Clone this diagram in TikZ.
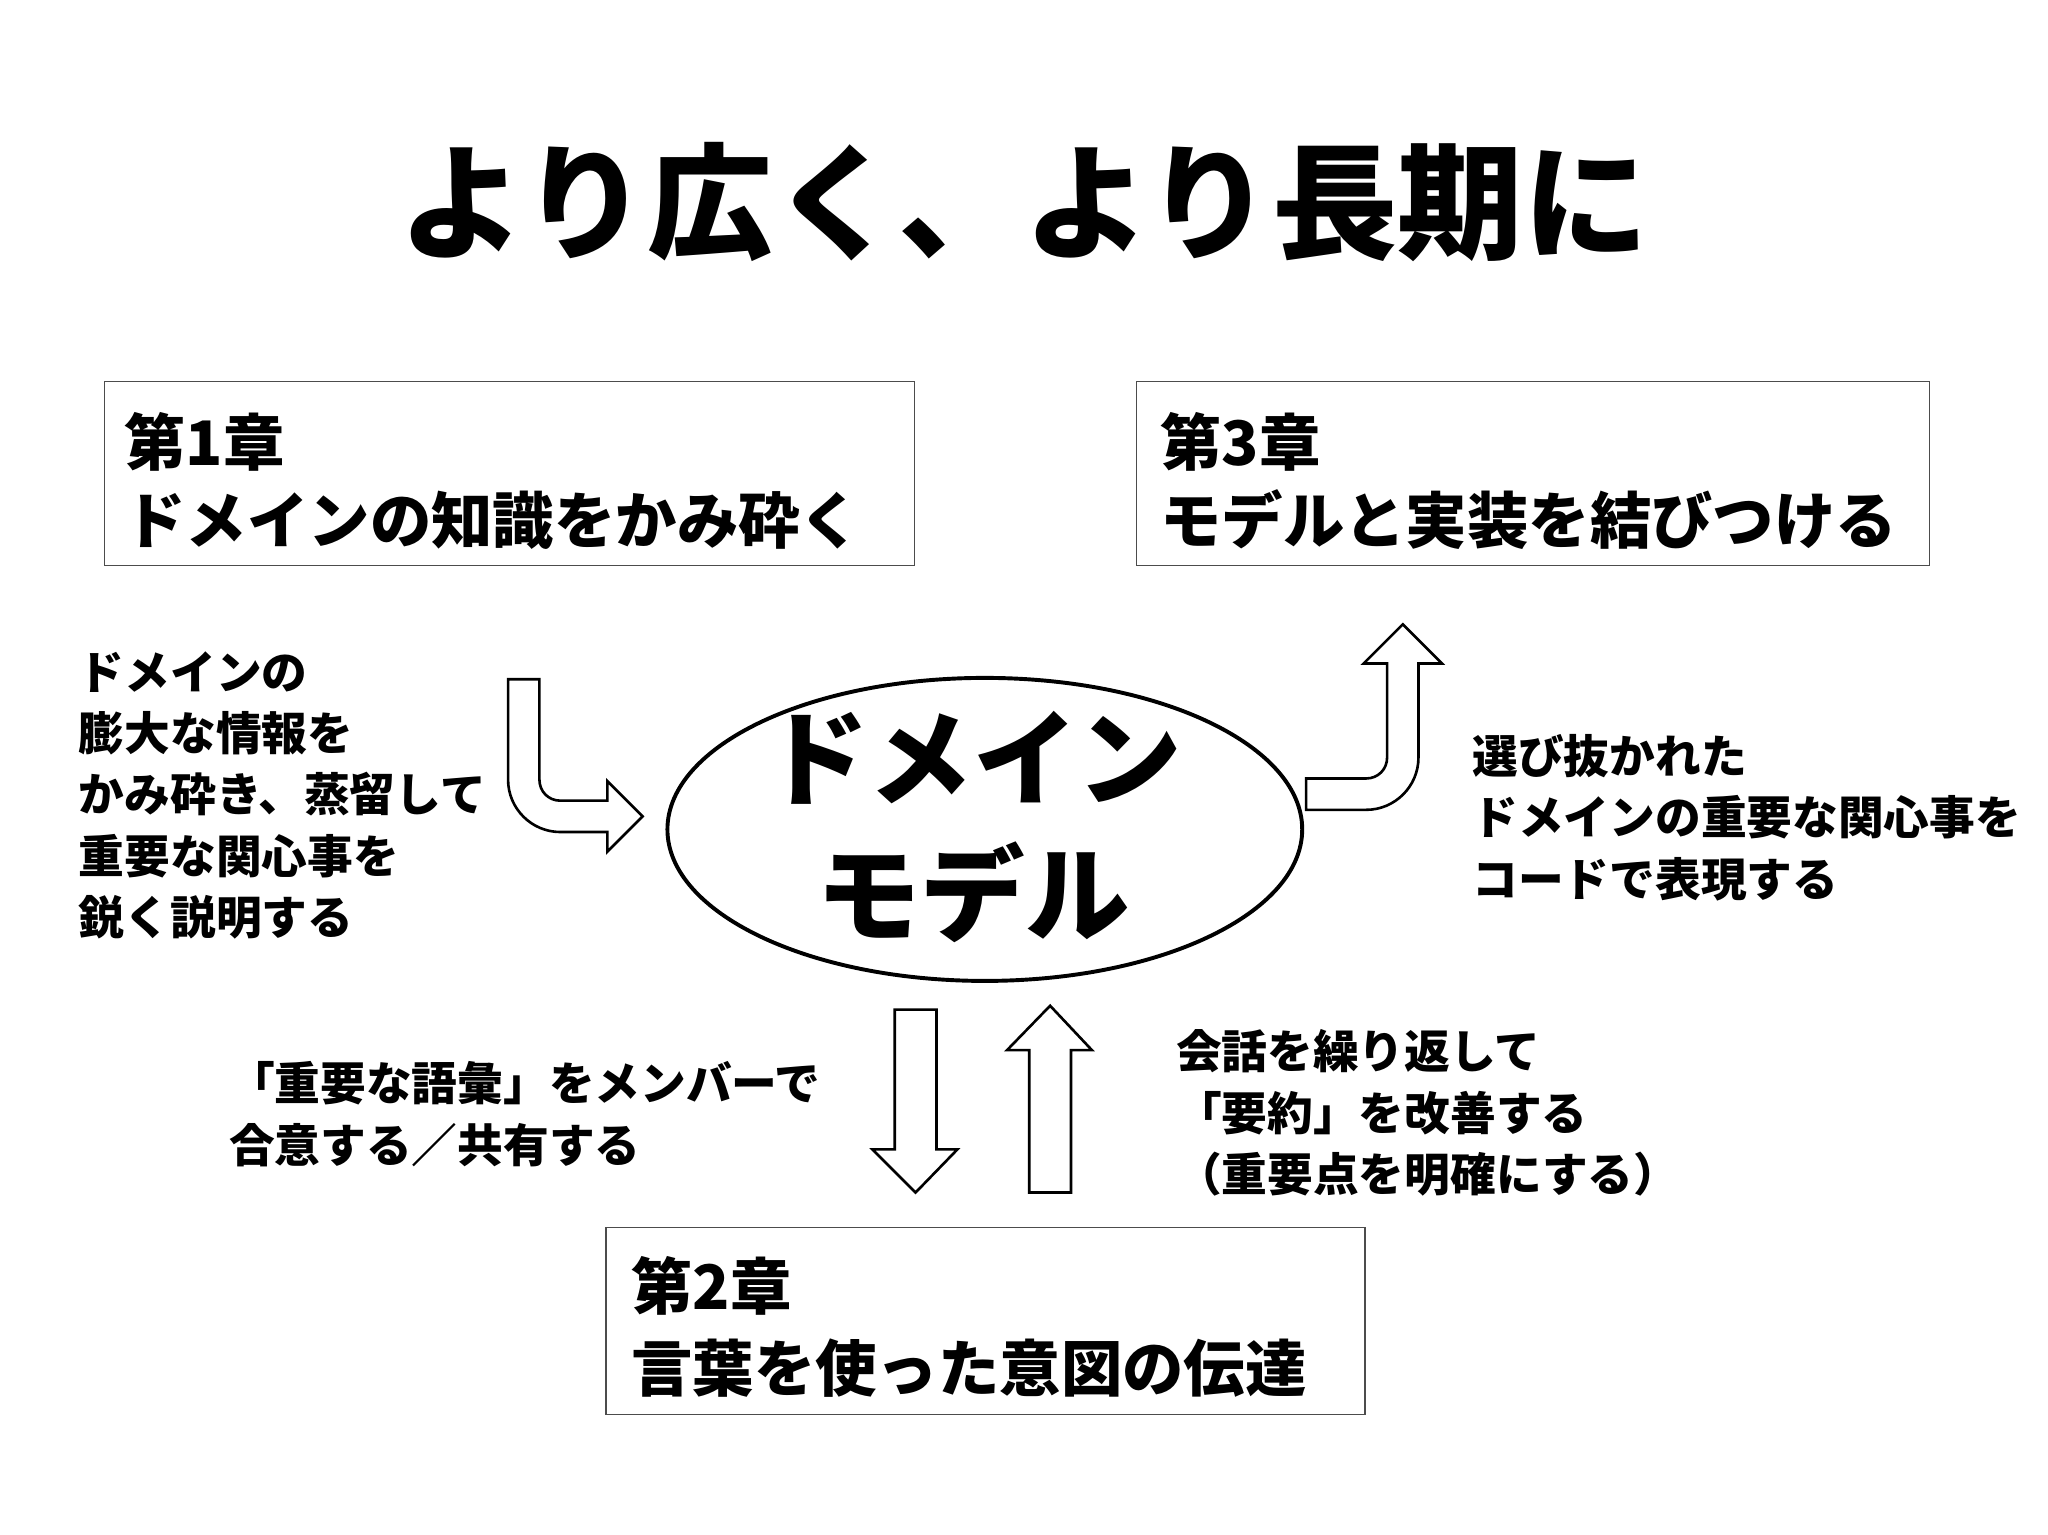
\documentclass[tikz,border=0pt]{standalone}
\usepackage{fontspec}
\setmainfont{Noto Sans CJK JP}
\usetikzlibrary{shapes.geometric}
\begin{document}
\begin{tikzpicture}[x=0.5pt,y=-0.5pt,
  box/.style={draw=black!70,line width=0.5pt},
  small/.style={font=\bfseries\fontsize{17.5}{23.5}\selectfont,align=left,inner sep=0pt,anchor=west},
  boxtxt/.style={font=\bfseries\fontsize{23.5}{30}\selectfont,align=left,inner sep=0pt,anchor=west},
  harrow/.style={draw=black,line width=1pt,fill=white,line join=miter}]
\useasboundingbox (0,0) rectangle (1568,1175);
\node[font=\bfseries\fontsize{48}{56}\selectfont,inner sep=0pt] (title) at (784,155) {より広く、より長期に};
\draw[box] (80,292) rectangle (700,433);
\node[boxtxt] (b1) at (95,368) {第1章\\ドメインの知識をかみ砕く};
\draw[box] (870,292) rectangle (1477,433);
\node[boxtxt] (b3) at (888,368) {第3章\\モデルと実装を結びつける};
\draw[box] (464,940) rectangle (1045,1083);
\node[boxtxt,font=\bfseries\fontsize{23.5}{31.5}\selectfont] (b2) at (483,1016) {第2章\\言葉を使った意図の伝達};
\node[ellipse,draw,line width=1.5pt,minimum width=243pt,minimum height=116pt,inner sep=0pt] (dm) at (754,635) {};
\node[font=\bfseries\fontsize{40}{52}\selectfont,align=center,inner sep=0pt] (dmt) at (745,633) {ドメイン\\モデル};
\node[small] (lt) at (60,609) {ドメインの\\膨大な情報を\\かみ砕き、蒸留して\\重要な関心事を\\鋭く説明する};
\node[small] (rt) at (1127,626) {選び抜かれた\\ドメインの重要な関心事を\\コードで表現する};
\node[small] (blt) at (175,853) {「重要な語彙」をメンバーで\\合意する／共有する};
\node[small] (brt) at (900,852) {会話を繰り返して\\「要約」を改善する\\（重要点を明確にする）};
% left bent arrow
\draw[harrow] (389,520) -- (389,597) .. controls (389,619) and (407,637) .. (429,637) -- (465,637) -- (465,652) -- (492,625) -- (465,598) -- (465,613) -- (429,613) .. controls (420,613) and (413,606) .. (413,597) -- (413,520) -- cycle;
% right bent arrow
\draw[harrow] (1000,596) -- (1046,596) .. controls (1055,596) and (1062,589) .. (1062,580) -- (1062,508) -- (1044,508) -- (1074,478) -- (1104,508) -- (1086,508) -- (1086,580) .. controls (1086,602) and (1068,620) .. (1046,620) -- (1000,620) -- cycle;
% down arrow
\draw[harrow] (685,773) -- (717,773) -- (717,880) -- (733,880) -- (701,913) -- (668,880) -- (685,880) -- cycle;
% up arrow
\draw[harrow] (788,913) -- (820,913) -- (820,804) -- (836,804) -- (804,770) -- (771,804) -- (788,804) -- cycle;
\end{tikzpicture}
\end{document}
